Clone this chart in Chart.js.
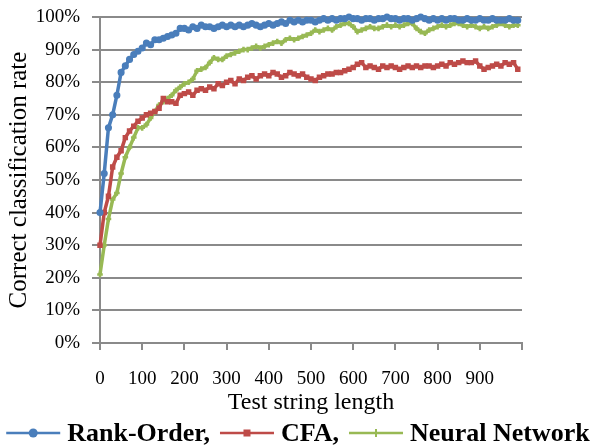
<!DOCTYPE html>
<html>
<head>
<meta charset="utf-8">
<script src="https://cdn.jsdelivr.net/npm/chart.js@4"></script>
<style>
  html, body { margin: 0; padding: 0; background: #fff; }
  #wrap { width: 596px; height: 447px; }
</style>
</head>
<body>
<div id="wrap"><canvas id="chart"></canvas></div>
<script>
// === DATA ===
const lengths = [
  0, 10, 20, 30, 40, 50, 60, 70, 80, 90,
  100, 110, 120, 130, 140, 150, 160, 170, 180, 190,
  200, 210, 220, 230, 240, 250, 260, 270, 280, 290,
  300, 310, 320, 330, 340, 350, 360, 370, 380, 390,
  400, 410, 420, 430, 440, 450, 460, 470, 480, 490,
  500, 510, 520, 530, 540, 550, 560, 570, 580, 590,
  600, 610, 620, 630, 640, 650, 660, 670, 680, 690,
  700, 710, 720, 730, 740, 750, 760, 770, 780, 790,
  800, 810, 820, 830, 840, 850, 860, 870, 880, 890,
  900, 910, 920, 930, 940, 950, 960, 970, 980, 990
];

const rankOrder = [
  40, 52, 66, 70, 76, 83, 85, 87, 88.5, 89.5,
  90.5, 92, 91.5, 93, 93, 93.5, 94, 94.5, 95, 96.5,
  96.5, 96, 97, 96.5, 97.5, 97, 97, 96.5, 97, 97.5,
  97, 97.5, 97, 97.5, 97, 97.5, 98, 97.5, 97, 97.5,
  98, 97.5, 98, 98.5, 98, 99, 98.5, 99, 98.5, 99,
  99, 98.5, 99, 99.5, 99, 99.5, 99, 99.5, 99.5, 100,
  99.5, 99.5, 99, 99.5, 99.5, 99, 99.5, 99.5, 100, 99.5,
  99.5, 99, 99.5, 99.5, 99, 99.5, 100, 99.5, 99, 99.5,
  99, 99.5, 99, 99.5, 99.5, 99, 99, 99.5, 99, 99,
  99.5, 99, 99, 99.5, 99, 99, 99, 99.5, 99, 99
];

const cfa = [
  30, 40, 45, 54, 57, 59, 63, 65, 66.5, 68,
  69, 70, 70.5, 71, 72, 75, 74, 74, 73.5, 76,
  76.5, 77, 76, 77.5, 78, 77.5, 78.5, 78, 79.5, 79,
  80, 80.5, 79.5, 81, 80.5, 81.5, 82, 81, 82, 82.5,
  82, 83, 82.5, 81.5, 82, 83, 82.5, 82, 82.5, 81.5,
  81, 80.5, 81.5, 82, 82.5, 82.5, 83, 83, 83.5, 84,
  84.5, 85.5, 86, 84.5, 85, 84.5, 84, 85, 84.5, 85,
  84.5, 84, 84.5, 85, 84.5, 85, 84.5, 85, 85, 84.5,
  85, 85.5, 85, 86, 85.5, 86, 86.5, 86, 86, 86.5,
  85, 84, 84.5, 85, 85.5, 85, 86, 85.5, 86, 84
];

const neuralNetwork = [
  21, 30, 38, 44, 46, 52, 57, 60, 63, 66,
  66, 67, 69, 71, 73, 74, 75, 76, 77.5, 78.5,
  79.5, 80, 81, 83.5, 84, 84.5, 86, 87.5, 87, 87,
  88, 88.5, 89, 89.5, 90, 90, 90.5, 91, 90.5, 91,
  91.5, 92, 92.5, 92, 93, 93.5, 93, 93.5, 94, 94.5,
  95, 96, 95.5, 96, 96.5, 96, 97, 97.5, 98, 98,
  97, 95.5, 96, 96.5, 97, 96.5, 96.5, 97, 97.5, 97,
  97.5, 97, 97.5, 98, 98, 96.5, 95.5, 95, 96, 96.5,
  97, 97.5, 97, 97.5, 98, 98, 97.5, 97, 97.5, 97,
  96.5, 97, 96.5, 97, 97.5, 98, 97.5, 97, 97.5, 97.5
];

const seriesNames = ["Rank-Order", "CFA", "Neural Network"];
const seriesColors = ["#4a7ebb", "#be4b48", "#98b954"];
const gridColor = "#8a8a8a";
const serif = "'Liberation Serif', 'Times New Roman', serif";

Chart.defaults.font.family = serif;
Chart.defaults.color = "#000";

function pts(values) {
  return values.map((v, i) => ({ x: lengths[i], y: v }));
}

// legend under the axis title: line + marker, then the bold label
const bottomLegend = {
  id: "bottomLegend",
  afterDraw(chart) {
    const ctx = chart.ctx;
    const sets = chart.data.datasets;
    const y = 433;
    const lineLen = 54, gap = 7, groupGap = 10;
    ctx.save();
    ctx.font = "bold 26px " + serif;
    ctx.textBaseline = "middle";
    const texts = sets.map((d, i) => d.label + (i < sets.length - 1 ? "," : ""));
    let total = 0;
    texts.forEach((t, i) => {
      total += lineLen + gap + ctx.measureText(t).width;
      if (i < texts.length - 1) total += groupGap;
    });
    let x = (chart.width - total) / 2;
    sets.forEach((d, i) => {
      ctx.strokeStyle = d.borderColor;
      ctx.fillStyle = d.borderColor;
      ctx.lineWidth = 2.5;
      ctx.beginPath();
      ctx.moveTo(x, y);
      ctx.lineTo(x + lineLen, y);
      ctx.stroke();
      const cx = x + lineLen / 2;
      if (d.pointStyle === "circle") {
        ctx.beginPath();
        ctx.arc(cx, y, 4.5, 0, Math.PI * 2);
        ctx.fill();
      } else if (d.pointStyle === "rect") {
        ctx.fillRect(cx - 3.5, y - 3.5, 7, 7);
      } else {
        ctx.lineWidth = 2;
        ctx.beginPath();
        ctx.moveTo(cx, y - 4);
        ctx.lineTo(cx, y + 4);
        ctx.stroke();
      }
      ctx.fillStyle = "#000";
      ctx.fillText(texts[i], x + lineLen + gap, y + 1);
      x += lineLen + gap + ctx.measureText(texts[i]).width + groupGap;
    });
    ctx.restore();
  }
};

const common = {
  fill: false,
  borderWidth: 3.5,
  pointRadius: 2.8,
  pointBorderWidth: 1.5,
  tension: 0,
  clip: false
};

new Chart(document.getElementById("chart"), {
  type: "line",
  data: {
    datasets: [
      { ...common, label: seriesNames[0], data: pts(rankOrder), borderColor: seriesColors[0],
        backgroundColor: seriesColors[0], pointStyle: "circle" },
      { ...common, label: seriesNames[1], data: pts(cfa), borderColor: seriesColors[1],
        backgroundColor: seriesColors[1], pointStyle: "rect" },
      { ...common, label: seriesNames[2], data: pts(neuralNetwork), borderColor: seriesColors[2],
        backgroundColor: seriesColors[2], pointStyle: "cross", pointBorderWidth: 2.5 }
    ]
  },
  options: {
    responsive: true,
    maintainAspectRatio: false,
    animation: false,
    events: [],
    layout: { padding: { top: 17, right: 74, bottom: 30, left: 0 } },
    plugins: { legend: { display: false }, tooltip: { enabled: false } },
    scales: {
      x: {
        type: "linear",
        min: 0,
        max: 1000,
        afterFit: s => { s.height = 74; },
        ticks: {
          stepSize: 100,
          autoSkip: false,
          maxRotation: 0,
          padding: 18,
          color: "#000",
          font: { size: 19 },
          callback: v => (v === 1000 ? "" : v)
        },
        grid: { drawOnChartArea: false, drawTicks: true, tickLength: 7, color: gridColor, lineWidth: 2 },
        border: { display: true, color: gridColor, width: 2 },
        title: {
          display: true,
          text: "Test string length",
          color: "#000",
          font: { size: 24 },
          padding: { top: 0, bottom: 0 }
        }
      },
      y: {
        min: 0,
        max: 100,
        afterFit: s => { s.width = 100; s.paddingTop = 0; s.paddingBottom = 0; },
        ticks: {
          stepSize: 10,
          padding: 12,
          color: "#000",
          font: { size: 19 },
          callback: v => v + "%"
        },
        grid: { color: gridColor, lineWidth: 2, tickLength: 8 },
        border: { display: true, color: gridColor, width: 2 },
        title: {
          display: true,
          text: "Correct classification rate",
          color: "#000",
          font: { size: 25 },
          padding: { top: 4, bottom: 0 }
        }
      }
    }
  },
  plugins: [bottomLegend]
});
</script>
</body>
</html>
